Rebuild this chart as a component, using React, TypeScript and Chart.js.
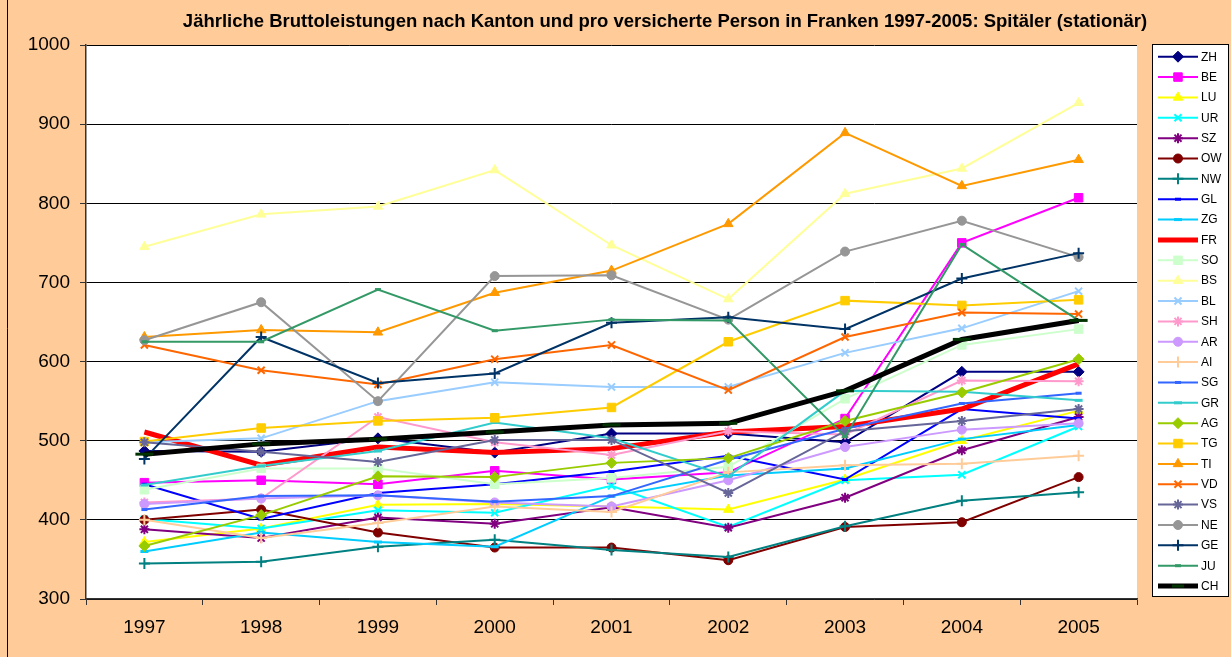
import React, { useEffect, useRef } from 'react';
import { Chart, registerables } from 'chart.js';
import { drawPoint } from 'chart.js/helpers';

Chart.register(...registerables);

const FONT = '"Liberation Sans", Arial, sans-serif';
const PEACH = '#FFCC99';

const TITLE = 'Jährliche Bruttoleistungen nach Kanton und pro versicherte Person in Franken 1997-2005: Spitäler (stationär)';

const years = ['1997', '1998', '1999', '2000', '2001', '2002', '2003', '2004', '2005'];
const yTicks = [300, 400, 500, 600, 700, 800, 900, 1000];

const ZH = [487, 486, 503, 485, 509, 509, 498, 587, 587];
const BE = [447, 450, 445, 462, 451, 460, 528, 750, 807];
const LU = [372, 389, 419, 420, 417, 413, 451, 500, 538];
const UR = [401, 389, 412, 409, 443, 391, 450, 457, 518];
const SZ = [388, 377, 403, 395, 416, 390, 428, 488, 530];
const OW = [400, 413, 384, 365, 365, 349, 391, 397, 454];
const NW = [345, 347, 366, 375, 362, 353, 392, 424, 435];
const GL = [445, 401, 434, 445, 461, 481, 451, 540, 528];
const ZG = [360, 384, 372, 366, 430, 456, 465, 502, 520];
const FR = [511, 469, 492, 485, 490, 511, 518, 540, 597];
const SO = [438, 465, 465, 445, 453, 467, 553, 621, 641];
const BS = [745, 786, 796, 842, 747, 679, 812, 844, 927];
const BL = [498, 503, 550, 574, 568, 568, 611, 642, 689];
const SH = [422, 427, 530, 498, 482, 512, 508, 576, 575];
const AR = [420, 427, 431, 422, 417, 450, 492, 514, 522];
const AI = [400, 377, 396, 417, 410, 460, 469, 471, 481];
const SG = [413, 430, 431, 423, 430, 476, 515, 547, 560];
const GR = [444, 468, 487, 523, 503, 455, 563, 562, 551];
const AG = [367, 406, 455, 454, 472, 478, 525, 561, 603];
const TG = [499, 516, 525, 529, 542, 625, 677, 671, 678];
const TI = [631, 640, 637, 687, 715, 774, 889, 822, 855];
const VD = [621, 589, 571, 603, 621, 564, 631, 662, 660];
const VS = [498, 486, 473, 501, 501, 434, 512, 525, 540];
const NE = [627, 675, 550, 708, 709, 653, 739, 778, 732];
const GE = [477, 631, 573, 585, 649, 656, 641, 705, 737];
const JU = [625, 625, 691, 639, 653, 652, 505, 748, 652];
const CH = [483, 496, 502, 511, 520, 522, 563, 628, 652];

const cantons = ['ZH', 'BE', 'LU', 'UR', 'SZ', 'OW', 'NW', 'GL', 'ZG', 'FR', 'SO', 'BS', 'BL', 'SH', 'AR', 'AI', 'SG', 'GR', 'AG', 'TG', 'TI', 'VD', 'VS', 'NE', 'GE', 'JU', 'CH'];
const seriesValues = [ZH, BE, LU, UR, SZ, OW, NW, GL, ZG, FR, SO, BS, BL, SH, AR, AI, SG, GR, AG, TG, TI, VD, VS, NE, GE, JU, CH];

type Sty = { color: string; point: string | false; r: number; bw: number; lw: number; pc?: string };
const styles: Sty[] = [
  { color: '#000080', point: 'rectRot', r: 5.5, bw: 1, lw: 2 },
  { color: '#FF00FF', point: 'rect', r: 6, bw: 1, lw: 2 },
  { color: '#FFFF00', point: 'triangle', r: 5.5, bw: 1, lw: 2 },
  { color: '#00FFFF', point: 'crossRot', r: 5, bw: 2, lw: 2 },
  { color: '#800080', point: 'star', r: 5, bw: 2, lw: 2 },
  { color: '#800000', point: 'circle', r: 4.5, bw: 1, lw: 2 },
  { color: '#008080', point: 'cross', r: 5.5, bw: 2, lw: 2 },
  { color: '#0000FF', point: 'line', r: 3, bw: 3, lw: 2 },
  { color: '#00CCFF', point: 'line', r: 4, bw: 3, lw: 2 },
  { color: '#FF0000', point: false, r: 0, bw: 0, lw: 5 },
  { color: '#CCFFCC', point: 'rect', r: 6, bw: 1, lw: 2 },
  { color: '#FFFF99', point: 'triangle', r: 5.5, bw: 1, lw: 2 },
  { color: '#99CCFF', point: 'crossRot', r: 5, bw: 2, lw: 2 },
  { color: '#FF99CC', point: 'star', r: 5, bw: 2, lw: 2 },
  { color: '#CC99FF', point: 'circle', r: 4.5, bw: 1, lw: 2 },
  { color: '#FFCC99', point: 'cross', r: 5.5, bw: 2, lw: 2 },
  { color: '#3366FF', point: 'line', r: 3, bw: 3, lw: 2 },
  { color: '#33CCCC', point: 'line', r: 4, bw: 3, lw: 2 },
  { color: '#99CC00', point: 'rectRot', r: 5.5, bw: 1, lw: 2 },
  { color: '#FFCC00', point: 'rect', r: 6, bw: 1, lw: 2 },
  { color: '#FF9900', point: 'triangle', r: 5.5, bw: 1, lw: 2 },
  { color: '#FF6600', point: 'crossRot', r: 5, bw: 2, lw: 2 },
  { color: '#666699', point: 'star', r: 5, bw: 2, lw: 2 },
  { color: '#969696', point: 'circle', r: 4.5, bw: 1, lw: 2 },
  { color: '#003366', point: 'cross', r: 5.5, bw: 2, lw: 2 },
  { color: '#339966', point: 'line', r: 3, bw: 3, lw: 2 },
  { color: '#000000', point: 'line', r: 9, bw: 3, lw: 5, pc: '#003300' },
];

const decorPlugin = {
  id: 'decor',
  beforeDraw(chart: any) {
    const { ctx, chartArea } = chart;
    ctx.save();
    ctx.fillStyle = PEACH;
    ctx.fillRect(0, 0, chart.width, chart.height);
    ctx.strokeStyle = '#000';
    ctx.lineWidth = 1;
    ctx.beginPath();
    ctx.moveTo(7.5, 0);
    ctx.lineTo(7.5, chart.height);
    ctx.stroke();
    ctx.fillStyle = '#FFFFFF';
    ctx.fillRect(chartArea.left, chartArea.top, chartArea.right - chartArea.left, chartArea.bottom - chartArea.top);
    ctx.fillStyle = '#000';
    ctx.font = 'bold 18.5px ' + FONT;
    ctx.textAlign = 'center';
    ctx.textBaseline = 'middle';
    ctx.fillText(TITLE, 665, 22);
    ctx.restore();
  },
  afterDraw(chart: any) {
    const { ctx } = chart;
    ctx.save();
    const bx = 1152.5, by = 44.5, bw = 76, bh = 552;
    ctx.fillStyle = '#FFFFFF';
    ctx.fillRect(bx, by, bw, bh);
    ctx.strokeStyle = '#000';
    ctx.lineWidth = 1;
    ctx.strokeRect(bx, by, bw, bh);
    cantons.forEach((name, i) => {
      const s = styles[i];
      const y = 56.7 + i * 20.36;
      ctx.strokeStyle = s.color;
      ctx.lineWidth = s.lw;
      ctx.lineCap = 'butt';
      ctx.beginPath();
      ctx.moveTo(1158, y);
      ctx.lineTo(1198, y);
      ctx.stroke();
      if (s.point) {
        const pc = s.pc || s.color;
        ctx.fillStyle = pc;
        ctx.strokeStyle = pc;
        ctx.lineWidth = s.bw;
        drawPoint(ctx, { pointStyle: s.point as any, rotation: 0, radius: s.point === 'line' && s.pc ? 6 : s.r, borderWidth: s.bw }, 1178, y);
      }
      ctx.fillStyle = '#000';
      ctx.font = '12px ' + FONT;
      ctx.textAlign = 'left';
      ctx.textBaseline = 'middle';
      ctx.fillText(name, 1201, y + 0.5);
    });
    ctx.restore();
  },
};

export default function App() {
  const ref = useRef<HTMLCanvasElement>(null);
  useEffect(() => {
    if (!ref.current) return;
    const n = cantons.length;
    const datasets = cantons.map((name, i) => {
      const s = styles[i];
      const pc = s.pc || s.color;
      return {
        label: name,
        data: seriesValues[i],
        borderColor: s.color,
        backgroundColor: pc,
        borderWidth: s.lw,
        pointStyle: (s.point || 'circle') as any,
        pointRadius: s.point ? s.r : 0,
        pointBorderWidth: s.bw,
        pointBackgroundColor: pc,
        pointBorderColor: pc,
        tension: 0,
        fill: false,
        order: n - 1 - i,
      };
    });
    const chart = new Chart(ref.current, {
      type: 'line',
      data: { labels: years, datasets },
      options: {
        responsive: false,
        animation: false,
        devicePixelRatio: 1,
        layout: { padding: { left: 0, top: 45, right: 94, bottom: 0 } },
        plugins: { legend: { display: false }, title: { display: false }, tooltip: { enabled: false } },
        scales: {
          x: {
            type: 'category',
            offset: true,
            grid: { display: true, drawOnChartArea: false, drawTicks: true, tickLength: 6, offset: true, color: '#333', lineWidth: 1 },
            border: { display: true, color: '#333', width: 1.5 },
            ticks: { color: '#000', font: { family: FONT, size: 19 }, padding: 11, maxRotation: 0, autoSkip: false },
            afterFit: (s: any) => { s.height = 58; },
          },
          y: {
            min: yTicks[0],
            max: yTicks[yTicks.length - 1],
            afterBuildTicks: (s: any) => { s.ticks = yTicks.map((v) => ({ value: v })); },
            grid: { color: '#000', lineWidth: 1, tickLength: 6, tickColor: '#333', drawTicks: true },
            border: { display: true, color: '#333', width: 1.5 },
            ticks: { color: '#000', font: { family: FONT, size: 19 }, padding: 10, callback: (v: any) => String(v) },
            afterFit: (s: any) => { s.width = 86; },
          },
        },
      },
      plugins: [decorPlugin],
    });
    return () => chart.destroy();
  }, []);
  return (
    <div style={{ position: 'fixed', left: 0, top: 0, width: 1231, height: 657, background: PEACH }}>
      <canvas ref={ref} width={1231} height={657} style={{ display: 'block', width: 1231, height: 657 }} />
    </div>
  );
}
